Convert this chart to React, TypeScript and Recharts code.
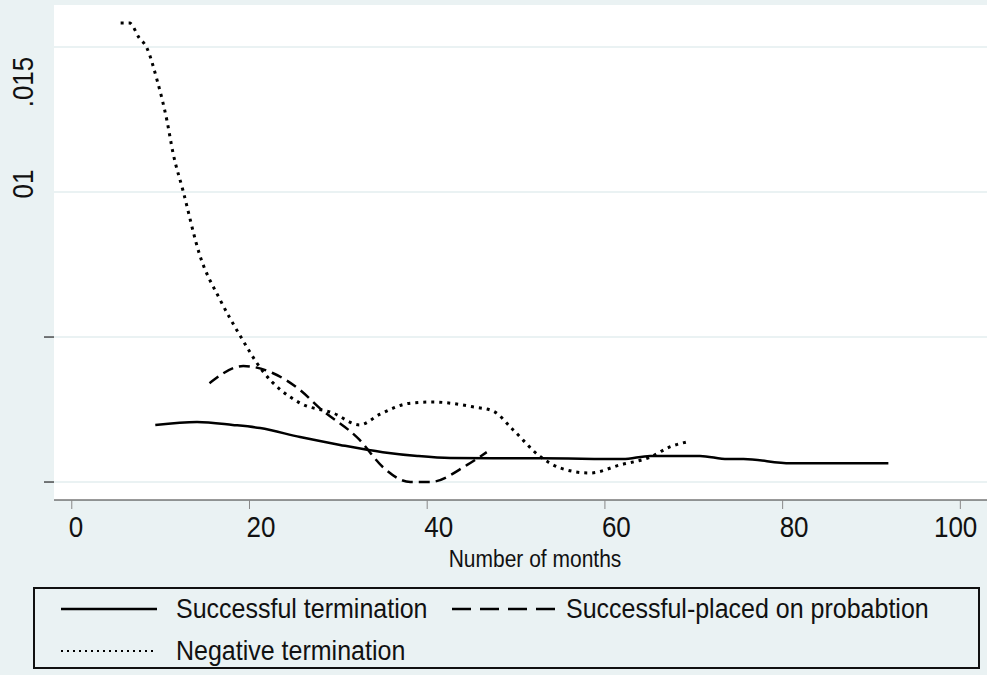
import React from 'react';
import { LineChart, Line, XAxis, YAxis, CartesianGrid } from 'recharts';

interface Pt {
  months: number;
  density: number;
}

const xTicks = [0, 20, 40, 60, 80, 100];
const yTicks = [0, 0.005, 0.01, 0.015];
const yTickLabels: Record<string, string> = { '0': '', '0.005': '', '0.01': '01', '0.015': '.015' };

const successfulMonths = [9.4, 14.1, 18.1, 21.2, 25.7, 30.2, 35.0, 38.9, 42.6, 47.5, 52.7, 62.0, 65.1, 70.7, 73.8, 75.6, 80.9, 86.0, 91.9];
const successfulValues = [0.00197, 0.00207, 0.00197, 0.00186, 0.00155, 0.00128, 0.00103, 0.0009, 0.00083, 0.00082, 0.00082, 0.00079, 0.0009, 0.0009, 0.00079, 0.00079, 0.00065, 0.00065, 0.00065];

const probationMonths = [15.5, 19.3, 22.6, 25.7, 27.9, 32.4, 35.0, 38.1, 40.3, 44.5, 46.7];
const probationValues = [0.00341, 0.004, 0.00376, 0.00317, 0.00255, 0.00145, 0.00052, 0, 0, 0.00059, 0.00103];

const negativeMonths = [5.5, 6.5, 7.6, 8.4, 9.6, 10.7, 11.4, 12.5, 14.4, 16.7, 18.9, 21.4, 25.7, 29.4, 32.4, 34.7, 38.1, 40.6, 45.2, 47.4, 49.7, 52.7, 55.0, 58.3, 61.7, 65.1, 67.3, 69.2];
const negativeValues = [0.01583, 0.01583, 0.01531, 0.0150, 0.01386, 0.01248, 0.01134, 0.01007, 0.00783, 0.00628, 0.00507, 0.00386, 0.00272, 0.00238, 0.00197, 0.00234, 0.00272, 0.00276, 0.00259, 0.00245, 0.00179, 0.00088, 0.00048, 0.00031, 0.00059, 0.00086, 0.00121, 0.00138];

const toPoints = (xs: number[], ys: number[]): Pt[] =>
  xs.map((m, i) => ({ months: m, density: ys[i] }));

const successful = toPoints(successfulMonths, successfulValues);
const probation = toPoints(probationMonths, probationValues);
const negative = toPoints(negativeMonths, negativeValues);

const FONT = "Arial, 'Liberation Sans', Helvetica, sans-serif";
const BG = '#EAF2F3';
const STRETCH = 1.1;

const YTick = (props: any) => {
  const { y, payload } = props;
  const label = yTickLabels[String(payload.value)];
  if (!label) {
    return <line x1={44} x2={54} y1={y} y2={y} stroke="#222" strokeWidth={1.2} />;
  }
  const cy = payload.value === 0.015 ? y + 35 : y - 8;
  // rotated text; glyph height runs along x, so stretch x
  return (
    <g transform={`translate(33 ${cy}) scale(${STRETCH} 1) rotate(-90)`}>
      <text x={0} y={0} textAnchor="middle" fontSize={26} fontFamily={FONT} fill="#111">
        {label}
      </text>
    </g>
  );
};

const XTick = (props: any) => {
  const { x, payload } = props;
  const last = payload.value === 100;
  return (
    <g transform={`translate(${last ? x + 17 : x - 3} 537) scale(1 ${STRETCH})`}>
      <text x={0} y={0} textAnchor={last ? 'end' : 'start'} fontSize={26} fontFamily={FONT} fill="#111">
        {payload.value}
      </text>
    </g>
  );
};

const XTitle = () => (
  <g transform={`translate(535 567) scale(1 ${STRETCH})`}>
    <text x={0} y={0} textAnchor="middle" fontSize={21} fontFamily={FONT} fill="#111">
      Number of months
    </text>
  </g>
);

const legendText: React.CSSProperties = {
  position: 'absolute',
  fontSize: 25,
  fontFamily: FONT,
  color: '#111',
  lineHeight: '30px',
  whiteSpace: 'nowrap',
  transform: `scaleY(${STRETCH})`,
};

const App: React.FC = () => {
  return (
    <div style={{ position: 'absolute', left: 0, top: 0, width: 987, height: 675, background: BG }}>
      <LineChart width={987} height={675} margin={{ top: 5, right: 0, left: 0, bottom: 95 }}>
        <CartesianGrid vertical={false} fill="#fff" stroke={BG} strokeWidth={2} horizontalValues={yTicks} />
        <XAxis
          type="number"
          dataKey="months"
          domain={[-2, 103]}
          ticks={xTicks}
          height={80}
          allowDataOverflow
          stroke="#333"
          tickSize={9}
          tickLine={{ stroke: '#888' }}
          tick={<XTick />}
          label={<XTitle />}
        />
        <YAxis
          type="number"
          domain={[-0.00062, 0.01645]}
          ticks={yTicks}
          width={54}
          allowDataOverflow
          axisLine={false}
          tickLine={false}
          tick={<YTick />}
        />
        <Line
          data={successful}
          dataKey="density"
          type="monotone"
          stroke="#000"
          strokeWidth={2.5}
          dot={false}
          isAnimationActive={false}
        />
        <Line
          data={probation}
          dataKey="density"
          type="monotone"
          stroke="#000"
          strokeWidth={2.5}
          strokeDasharray="11 6"
          dot={false}
          isAnimationActive={false}
        />
        <Line
          data={negative}
          dataKey="density"
          type="monotone"
          stroke="#000"
          strokeWidth={3}
          strokeDasharray="3 5"
          dot={false}
          isAnimationActive={false}
        />
      </LineChart>
      <div
        style={{
          position: 'absolute',
          left: 33,
          top: 587,
          width: 947,
          height: 82,
          border: '2.5px solid #111',
          boxSizing: 'border-box',
          background: BG,
        }}
      >
        <svg width={947} height={82} style={{ position: 'absolute', left: -2.5, top: -2.5 }}>
          <line x1={28} x2={124} y1={22} y2={22} stroke="#000" strokeWidth={2.5} />
          <line x1={419} x2={527} y1={22} y2={22} stroke="#000" strokeWidth={2.5} strokeDasharray="19 9" />
          <line x1={28} x2={122} y1={64} y2={64} stroke="#000" strokeWidth={2} strokeDasharray="2 4" />
        </svg>
        <span style={{ ...legendText, left: 141, top: 4 }}>Successful termination</span>
        <span style={{ ...legendText, left: 531, top: 4 }}>Successful-placed on probabtion</span>
        <span style={{ ...legendText, left: 141, top: 46 }}>Negative termination</span>
      </div>
    </div>
  );
};

export default App;
